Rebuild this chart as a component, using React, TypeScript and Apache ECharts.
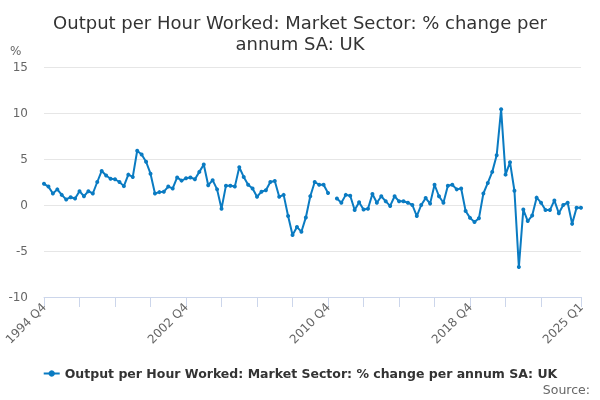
import React, { useEffect, useRef } from "react";
import * as echarts from "echarts";

const startYear = 1994;
const startQuarter = 4;
const pointCount = 122;

const categories: string[] = [];
for (let i = 0; i < pointCount; i++) {
  const q0 = startQuarter - 1 + i;
  categories.push(`${startYear + Math.floor(q0 / 4)} Q${(q0 % 4) + 1}`);
}

const seriesName = "Output per Hour Worked: Market Sector: % change per annum SA: UK";

const values: (number | null)[] = [
  2.3, 2.0, 1.25, 1.7, 1.1, 0.6, 0.85, 0.7, 1.5, 0.95,
  1.5, 1.25, 2.5, 3.7, 3.2, 2.85, 2.8, 2.5, 2.05, 3.3,
  3.05, 5.9, 5.5, 4.7, 3.4, 1.25, 1.4, 1.45, 2.0, 1.8,
  3.0, 2.65, 2.9, 3.0, 2.8, 3.6, 4.4, 2.15, 2.7, 1.7,
  -0.4, 2.1, 2.1, 2.0, 4.1, 3.05, 2.2, 1.8, 0.9, 1.45,
  1.6, 2.5, 2.6, 0.9, 1.1, -1.2, -3.25, -2.4, -2.9, -1.35,
  0.95, 2.5, 2.2, 2.2, 1.3, null, 0.7, 0.25, 1.1, 1.0,
  -0.55, 0.3, -0.5, -0.4, 1.2, 0.25, 0.95, 0.4, -0.1, 0.95,
  0.4, 0.4, 0.25, 0.0, -1.2, 0.0, 0.75, 0.15, 2.2, 0.95,
  0.25, 2.1, 2.2, 1.7, 1.8, -0.65, -1.4, -1.85, -1.45, 1.25,
  2.4, 3.6, 5.4, 10.4, 3.3, 4.65, 1.55, -6.75, -0.5, -1.75,
  -1.15, 0.8, 0.25, -0.55, -0.55, 0.5, -0.9, 0.0, 0.25, -2.05,
  -0.3, -0.3,
];

const yMin = -10;
const yMax = 15;
const yStep = 5;

const FONT = "DejaVu Sans, Verdana, sans-serif";

export default function App() {
  const ref = useRef<HTMLDivElement>(null);
  useEffect(() => {
    if (!ref.current) return;
    const chart = echarts.init(ref.current, undefined, { renderer: "svg" });
    const last = categories.length - 1;
    chart.setOption({
      animation: false,
      textStyle: { fontFamily: FONT },
      title: {
        text: "Output per Hour Worked: Market Sector: % change per\nannum SA: UK",
        left: "center",
        top: 7,
        textStyle: {
          fontFamily: FONT,
          fontSize: 18,
          fontWeight: "normal",
          color: "#333333",
          lineHeight: 21,
          align: "center",
        },
      },
      graphic: [
        {
          type: "text",
          left: 10,
          top: 45,
          style: { text: "%", fontFamily: FONT, fontSize: 12, fill: "#666666" },
        },
        {
          type: "text",
          right: 10,
          top: 383,
          style: { text: "Source:", fontFamily: FONT, fontSize: 12.5, fill: "#666666" },
        },
      ],
      legend: {
        data: [seriesName],
        bottom: 15,
        left: "center",
        itemWidth: 16,
        itemHeight: 8,
        itemGap: 5,
        textStyle: {
          fontFamily: FONT,
          fontSize: 12.5,
          fontWeight: "bold",
          color: "#333333",
        },
      },
      grid: { left: 44, right: 19, top: 67, bottom: 103, containLabel: false },
      xAxis: {
        type: "category",
        data: categories,
        boundaryGap: false,
        axisLine: { onZero: false, lineStyle: { color: "#ccd6eb", width: 1 } },
        axisTick: {
          length: 10,
          alignWithLabel: true,
          interval: (i: number) => (i % 8 === 0 && i <= last - 8) || i === last,
          lineStyle: { color: "#ccd6eb" },
        },
        axisLabel: {
          rotate: 45,
          interval: (i: number) => i % 32 === 0 || i === last,
          color: "#666666",
          fontFamily: FONT,
          fontSize: 12,
          margin: 8,
        },
      },
      yAxis: {
        type: "value",
        min: yMin,
        max: yMax,
        interval: yStep,
        axisLine: { show: false },
        axisTick: { show: false },
        splitLine: { lineStyle: { color: "#e6e6e6", width: 1 } },
        axisLabel: {
          color: "#666666",
          fontFamily: FONT,
          fontSize: 12,
          margin: 16,
        },
      },
      series: [
        {
          name: seriesName,
          type: "line",
          data: values,
          connectNulls: false,
          color: "#0a7bc2",
          lineStyle: { width: 2, color: "#0a7bc2" },
          symbol: "circle",
          symbolSize: 4,
          showSymbol: true,
          showAllSymbol: true,
          itemStyle: { color: "#0a7bc2" },
        },
      ],
    });
    return () => chart.dispose();
  }, []);
  return (
    <div
      ref={ref}
      style={{ position: "fixed", left: 0, top: 0, width: 600, height: 400 }}
    />
  );
}
